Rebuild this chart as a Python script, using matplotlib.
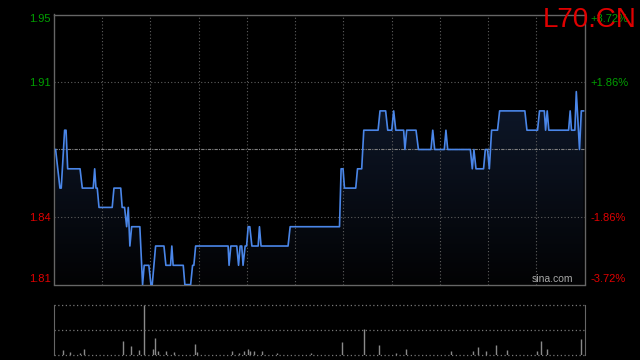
"""
Intraday price and volume chart for L70.CN (sina style, dark theme).
"""

import numpy as np
import matplotlib
matplotlib.use('Agg')
import matplotlib.pyplot as plt

plt.rcParams['font.family'] = ['Liberation Sans', 'DejaVu Sans']

# previous close and chart range (+/- 3.72%)
prev_close = 1.88
pct = 0.0372

# minutes since open (session shown as 11 half-hour blocks) and price
times = [1, 3.7, 4.5, 6.6, 7.5, 8.5, 16.2, 17.6, 24.4, 25.3, 26.1, 26.9, 28.0,
         36.2, 37.3, 41.5, 42.4, 43.9, 45.2, 46.2, 47.2, 48.3, 53.4, 55.1, 56.1,
         59.0, 60.3, 61.1, 63.2, 68.4, 69.6, 72.5, 73.3, 74.1, 80.4, 81.4, 85.0,
         86.2, 87.0, 88.1, 108.3, 108.9, 110.0, 113.7, 114.8, 115.8, 116.8, 117.6,
         118.9, 119.8, 120.8, 121.8, 123.1, 127.0, 127.8, 128.8, 145.6, 146.9,
         177.6, 178.6, 179.8, 180.7, 187.7, 188.8, 191.4, 192.7, 201.6, 202.8,
         206.3, 207.6, 210.1, 211.3, 212.6, 217.5, 218.3, 219.4, 225.2, 226.7,
         234.5, 235.6, 236.8, 242.8, 243.8, 244.9, 259.0, 260.2, 261.2, 262.5,
         267.2, 268.3, 269.7, 270.8, 272.2, 275.9, 277.2, 292.9, 294.2, 300.8,
         302.0, 305.0, 305.8, 306.8, 307.8, 320.1, 321.1, 321.9, 324.0, 324.9,
         326.9, 328.0, 329.4]
prices = [1.88, 1.86, 1.86, 1.89, 1.89, 1.87, 1.87, 1.86, 1.86, 1.87, 1.86, 1.86, 1.85,
          1.85, 1.86, 1.86, 1.85, 1.85, 1.84, 1.85, 1.83, 1.84, 1.84, 1.81, 1.82,
          1.82, 1.81, 1.81, 1.83, 1.83, 1.82, 1.82, 1.83, 1.82, 1.82, 1.81, 1.81,
          1.82, 1.82, 1.83, 1.83, 1.82, 1.83, 1.83, 1.82, 1.83, 1.83, 1.82,
          1.83, 1.83, 1.84, 1.84, 1.83, 1.83, 1.84, 1.83, 1.83, 1.84,
          1.84, 1.87, 1.87, 1.86, 1.86, 1.87, 1.87, 1.89, 1.89, 1.90,
          1.90, 1.89, 1.89, 1.90, 1.89, 1.89, 1.88, 1.89, 1.89, 1.88,
          1.88, 1.89, 1.88, 1.88, 1.89, 1.88, 1.88, 1.87, 1.88, 1.87,
          1.87, 1.88, 1.88, 1.87, 1.89, 1.89, 1.90, 1.90, 1.89, 1.89,
          1.90, 1.90, 1.89, 1.90, 1.89, 1.89, 1.90, 1.89, 1.89, 1.91,
          1.88, 1.90, 1.90]

# volume (thousand shares)
vol_times = [5.8, 9.9, 16.0, 18.6, 43.1, 48.1, 53.0, 55.7, 61.7, 63.0, 64.6, 69.8,
             74.8, 87.8, 88.8, 110.8, 115.0, 118.1, 120.8, 121.8, 124.5, 129.5,
             139.0, 160.0, 179.2, 192.9, 202.2, 213.0, 219.0, 247.2, 260.6, 263.7,
             268.7, 274.9, 281.7, 300.4, 302.9, 306.6, 327.7]
volumes = [4, 2.3, 1.5, 5, 13, 8, 4, 49, 5, 16, 3, 3,
           2, 10, 2, 3, 1.3, 3, 5, 3, 3, 3,
           1, 1, 12, 25, 9, 1.5, 5.3, 3.3, 3.3, 7.3,
           3.3, 9.3, 4.3, 3.3, 13.3, 5.3, 15.3]

left_labels = ['1.81', '1.84', '1.91', '1.95']
right_labels = ['-3.72%', '-1.86%', '+1.86%', '+3.72%']
label_colors = ['#e00000', '#e00000', '#00a000', '#00a000']

lo = prev_close * (1 - pct)
hi = prev_close * (1 + pct)
tick_vals = [lo, prev_close * (1 - pct / 2), prev_close * (1 + pct / 2), hi]

grid_col = '#5e5e5e'
spine_col = '#666666'
dot = (0, (1, 2))

fig = plt.figure(figsize=(6.4, 3.6), dpi=100, facecolor='black')
ax = fig.add_axes([54 / 640, 75.5 / 360, 530.5 / 640, 270 / 360])
ax.set_facecolor('black')
ax.set_xlim(0, 330)
ax.set_ylim(lo, hi)

# gradient fill under price line
fill = ax.fill_between(times, prices, lo, facecolor='none', edgecolor='none')
grad = np.linspace(1, 0, 256).reshape(-1, 1)
top_c = np.array([0.075, 0.13, 0.23])
bot_c = np.array([0.01, 0.01, 0.015])
img = bot_c + grad[..., None] * (top_c - bot_c)
im = ax.imshow(img, extent=[0, 330, lo, hi], aspect='auto', zorder=1)
im.set_clip_path(fill.get_paths()[0], transform=ax.transData)

# grid
for xv in range(30, 330, 30):
    ax.axvline(xv, color=grid_col, lw=0.8, ls=dot, zorder=2)
for yv in [tick_vals[1], tick_vals[2]]:
    ax.axhline(yv, color=grid_col, lw=0.8, ls=dot, zorder=2)
ax.axhline(prev_close, color='#808080', lw=0.8, ls=(0, (3, 1, 1, 1)), zorder=2)

ax.plot(times, prices, color='#4a86e8', lw=1.2, zorder=3)

for s in ax.spines.values():
    s.set_color(spine_col)
    s.set_linewidth(1)
ax.set_xticks([])
ax.set_yticks(tick_vals)
ax.set_yticklabels(left_labels)
ax.tick_params(axis='y', length=0, pad=2.5, labelsize=8)
for t, c in zip(ax.get_yticklabels(), label_colors):
    t.set_color(c)
ax.get_yticklabels()[0].set_va('bottom')
ax.get_yticklabels()[-1].set_va('top')

ax2 = ax.twinx()
ax2.set_ylim(lo, hi)
ax2.set_yticks(tick_vals)
ax2.set_yticklabels(right_labels)
ax2.tick_params(axis='y', length=0, pad=4, labelsize=8)
for t, c in zip(ax2.get_yticklabels(), label_colors):
    t.set_color(c)
ax2.get_yticklabels()[0].set_va('bottom')
ax2.get_yticklabels()[-1].set_va('top')
for s in ax2.spines.values():
    s.set_visible(False)

ax.text(0.94, 0.0, 'sina.com', transform=ax.transAxes, color='#a8a8a8',
        fontsize=7.5, ha='center', va='bottom', zorder=4)

# volume panel
vax = fig.add_axes([54 / 640, 5.5 / 360, 530.5 / 640, 49.5 / 360])
vax.set_facecolor('black')
vax.set_xlim(0, 330)
vmax = 49
vax.set_ylim(0, vmax)
vax.vlines(vol_times, 0, volumes, color='#8a8a8a', lw=1)
for yv in [0, vmax / 2, vmax]:
    vax.axhline(yv, color='#777777', lw=0.9, ls=dot, clip_on=False)
for side in ['top', 'bottom']:
    vax.spines[side].set_visible(False)
for side in ['left', 'right']:
    vax.spines[side].set_color(spine_col)
vax.set_xticks([])
vax.set_yticks([])

fig.text(636.5 / 640, 1 - 27 / 360, 'L70.CN', color='#e00000', fontsize=20,
         ha='right', va='baseline')

fig.savefig('out.png', dpi=100, facecolor='black')
